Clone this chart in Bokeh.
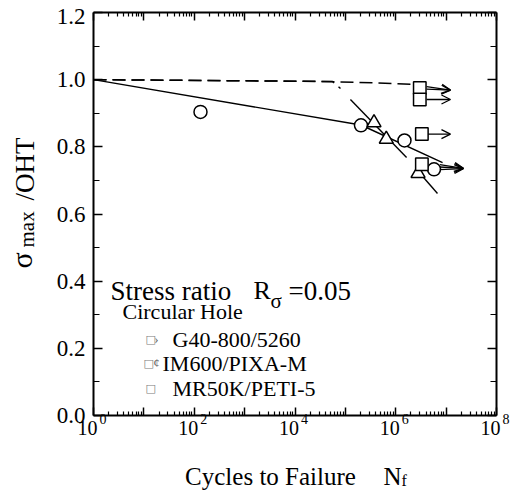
import math
from bokeh.plotting import figure
from bokeh.models import (Range1d, LogAxis, LinearAxis, FixedTicker, Label,
                          Arrow, OpenHead, ColumnDataSource)
from bokeh.embed import file_html
from bokeh.resources import INLINE

# ---------------- data ----------------
circle_N = [133, 2.04e5, 1.49e6, 5.75e6]
circle_S = [0.904, 0.864, 0.819, 0.733]
triangle_N = [3.70e5, 6.49e5, 2.77e6]
triangle_S = [0.872, 0.823, 0.721]
square_N = [3.0e6, 3.0e6, 3.3e6, 3.3e6]
square_S = [0.975, 0.941, 0.838, 0.748]

# run-out arrows (start -> tip)
runout_N_start = [4.1e6, 4.1e6, 4.1e6, 4.4e6, 7.5e6, 7.5e6, 7.5e6]
runout_S_start = [0.979, 0.972, 0.941, 0.838, 0.747, 0.740, 0.732]
runout_N_end = [1.22e7, 1.22e7, 1.22e7, 1.22e7, 2.2e7, 2.2e7, 2.2e7]
runout_S_end = [0.969, 0.969, 0.941, 0.838, 0.736, 0.736, 0.735]

# fitted lines
fit_N = [1, 2.04e5, 8.5e6]
fit_S = [1.0, 0.865, 0.753]
steep1_N = [1.26e5, 1.64e6]
steep1_S = [0.941, 0.768]
steep2_N = [2.7e6, 6.74e6]
steep2_S = [0.7295, 0.661]
dashA_N = [1, 3.2e4, 3.6e5, 3.0e6]
dashA_S = [1.0, 0.995, 0.9905, 0.985]
dashB_N = [1, 5.55e4, 8.0e4]
dashB_S = [1.0, 0.9945, 0.9737]

# ticks
y_ticks = [0.0, 0.2, 0.4, 0.6, 0.8, 1.0, 1.2]
y_minor = [0.1, 0.3, 0.5, 0.7, 0.9, 1.1]
y_tick_labels = ["0.0", "0.2", "0.4", "0.6", "0.8", "1.0", "1.2"]
x_decades = [1e0, 1e1, 1e2, 1e3, 1e4, 1e5, 1e6, 1e7, 1e8]
x_minor = [m * 10.0 ** k for k in range(8) for m in range(2, 10)]
x_label_ticks = [1e0, 1e2, 1e4, 1e6, 1e8]
x_label_exponents = ["0", "2", "4", "6", "8"]

legend_marks = ["\u203a", "\u00a2", ""]
legend_names = ["G40-800/5260", "IM600/PIXA-M", "MR50K/PETI-5"]

# ---------------- layout (page pixels) ----------------
W, H = 518, 491
FRAME_LEFT, FRAME_TOP, FRAME_W, FRAME_H = 93, 12, 403, 403
X_MIN, X_MAX = 1e0, 1e8
Y_MIN, Y_MAX = 0.0, 1.2


def xd(px):
    return 10 ** (math.log10(X_MIN) + (math.log10(X_MAX) - math.log10(X_MIN))
                  * (px - FRAME_LEFT) / FRAME_W)


def yd(py):
    return Y_MAX - (Y_MAX - Y_MIN) * (py - FRAME_TOP) / FRAME_H


SERIF = "Liberation Serif"

p = figure(x_axis_type="log", x_axis_location=None, y_axis_location=None,
           x_range=Range1d(xd(0), xd(W)), y_range=Range1d(yd(H), yd(0)),
           width=W, height=H, min_border=0, min_border_left=0,
           min_border_right=0, min_border_top=0, min_border_bottom=0,
           output_backend="svg", toolbar_location=None,
           background_fill_color="white", border_fill_color="white")
p.outline_line_color = None
p.grid.visible = False

xticker = FixedTicker(ticks=x_decades, minor_ticks=x_minor)
yticker = FixedTicker(ticks=y_ticks, minor_ticks=y_minor)

bottom_axis = LogAxis(fixed_location=Y_MIN, bounds=(X_MIN, X_MAX), ticker=xticker)
top_axis = LogAxis(fixed_location=Y_MAX, bounds=(X_MIN, X_MAX), ticker=xticker)
left_axis = LinearAxis(fixed_location=X_MIN, bounds=(Y_MIN, Y_MAX), ticker=yticker)
right_axis = LinearAxis(fixed_location=X_MAX, bounds=(Y_MIN, Y_MAX), ticker=yticker)
p.add_layout(bottom_axis, "below")
p.add_layout(top_axis, "above")
p.add_layout(left_axis, "left")
p.add_layout(right_axis, "right")

for ax in [bottom_axis, top_axis]:
    ax.major_tick_in = 8
    ax.minor_tick_in = 4
for ax in [left_axis, right_axis]:
    ax.major_tick_in = 9
    ax.minor_tick_in = 6
for ax in [bottom_axis, top_axis, left_axis, right_axis]:
    ax.major_tick_out = 0
    ax.minor_tick_out = 0
    ax.axis_line_width = 2
    ax.axis_line_color = "black"
    ax.major_tick_line_width = 1.5
    ax.minor_tick_line_width = 1.2
    ax.major_tick_line_color = "black"
    ax.minor_tick_line_color = "black"
    ax.major_label_text_color = None
    ax.major_label_text_font_size = "0px"
    ax.major_label_standoff = 0

# lines
p.line(fit_N, fit_S, line_color="black", line_width=1.4)
p.line(steep1_N, steep1_S, line_color="black", line_width=1.4)
p.line(steep2_N, steep2_S, line_color="black", line_width=1.4)
p.line(dashA_N, dashA_S, line_color="black", line_width=1.5, line_dash="13 6")
p.line(dashB_N, dashB_S, line_color="black", line_width=1.5, line_dash="13 6")

# run-out arrows
arrow_src = ColumnDataSource(dict(x0=runout_N_start, y0=runout_S_start,
                                  x1=runout_N_end, y1=runout_S_end))
p.add_layout(Arrow(x_start="x0", y_start="y0", x_end="x1", y_end="y1",
                   source=arrow_src, line_width=1.3, line_color="black",
                   end=OpenHead(size=9, line_width=1.3, line_color="black")))

# markers
p.scatter(circle_N, circle_S, marker="circle", size=13, fill_color="white",
          line_color="black", line_width=1.5)
p.scatter(triangle_N, triangle_S, marker="triangle", size=14, fill_color="white",
          line_color="black", line_width=1.5)
p.scatter(square_N, square_S, marker="square", size=12.5, fill_color="white",
          line_color="black", line_width=1.5)


def label(text, px, py, size, align="left", color="black", font=SERIF, angle=0):
    # (px, py): page position of the anchor, vertically the text's middle
    p.add_layout(Label(x=xd(px), y=yd(py), text=text, text_font=font,
                       text_font_size=f"{size}px", text_align=align,
                       text_baseline="middle", text_color=color, angle=angle))


# y tick labels
for v, t in zip(y_ticks, y_tick_labels):
    py = FRAME_TOP + (Y_MAX - v) / (Y_MAX - Y_MIN) * FRAME_H
    label(t, 85, max(py, 15.5), 23, align="right")

# x tick labels 10^k
for v, e in zip(x_label_ticks, x_label_exponents):
    px = FRAME_LEFT + math.log10(v) / 8.0 * FRAME_W
    label("10", px + 4, 427, 20, align="right")
    label(e, px + 6, 418, 14)

# axis titles
label("Cycles to Failure", 270, 476, 25, align="center")
label("N", 383, 476, 25)
label("f", 401, 480, 16)

label("\u03c3", 21, 268, 30, angle=math.pi / 2)
label("max", 26, 247, 21, angle=math.pi / 2)
label("/OHT", 24, 200, 27, angle=math.pi / 2)

# annotation block
label("Stress ratio", 110, 290, 27)
label("R", 253, 290, 26)
label("\u03c3", 270, 300, 21)
label("=0.05", 288, 290, 27)
label("Circular Hole", 122, 311, 22)
box_x = [145, 143, 145]
mark_x = [154, 153, 154]
name_x = [172, 162, 172]
row_y = [338.5, 362.5, 387.5]
for m, n, bx, mx, nx, ry in zip(legend_marks, legend_names, box_x, mark_x,
                                name_x, row_y):
    label("\u25a1", bx, ry, 11, color="#7a7a7a", font="DejaVu Sans")
    if m:
        label(m, mx, ry, 12, color="#555555")
    label(n, nx, ry, 22)

open("out.html", "w").write(file_html(p, INLINE))
